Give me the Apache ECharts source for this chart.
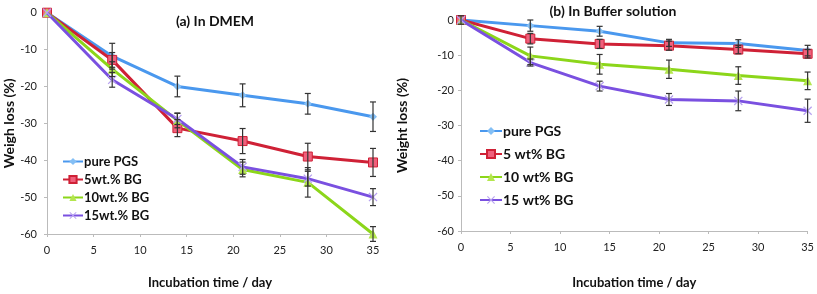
<!DOCTYPE html>
<html><head><meta charset="utf-8">
<script src="https://cdn.jsdelivr.net/npm/echarts@6/dist/echarts.min.js"></script>
<style>html,body{margin:0;padding:0;background:#fff}#c{width:817px;height:294px}</style>
</head><body><div id="c"></div>
<script>
const days = [0, 7, 14, 21, 28, 35];
const xTicks = [0, 5, 10, 15, 20, 25, 30, 35];
const yTicks = [0, -10, -20, -30, -40, -50, -60];

const namesA = ['pure PGS', '5wt.% BG', '10wt.% BG', '15wt.% BG'];
const namesB = ['pure PGS ', '5 wt% BG', '10 wt% BG', '15 wt% BG'];

// (a) In DMEM
const a_pgs = [0, -11.8, -20.0, -22.4, -24.7, -28.2];
const a_5 = [0, -12.8, -31.3, -34.8, -39.0, -40.6];
const a_10 = [0, -15.3, -29.2, -42.5, -46.0, -60.0];
const a_15 = [0, -18.2, -28.8, -41.8, -45.0, -50.0];
const a_pgs_err = [0, 3.5, 2.8, 3.1, 2.8, 4.0];
const a_5_err = [0, 2.0, 2.3, 3.4, 3.6, 3.8];
const a_10_err = [0, 2.0, 2.0, 2.0, 4.0, 2.0];
const a_15_err = [0, 2.0, 1.5, 2.0, 2.0, 2.3];

// (b) In Buffer solution
const b_pgs = [0, -1.6, -3.2, -6.5, -6.7, -8.7];
const b_5 = [0, -5.3, -6.8, -7.3, -8.4, -9.6];
const b_10 = [0, -10.2, -12.6, -14.0, -15.8, -17.3];
const b_15 = [0, -12.1, -18.8, -22.6, -23.0, -25.8];
const b_pgs_err = [1.2, 1.6, 1.4, 1.0, 1.1, 1.5];
const b_5_err = [0, 1.5, 1.3, 1.3, 1.2, 1.2];
const b_10_err = [0, 2.5, 2.8, 2.6, 2.5, 2.5];
const b_15_err = [0, 1.0, 1.4, 1.7, 2.8, 3.3];

const colors = ['#4a98ee', '#cf2136', '#8cd61a', '#7a50e0'];
const markFill = ['#84bff5', '#f0607c', '#b4e64e', '#b8a2f0'];
const symbols = ['diamond', 'rect', 'triangle',
  'path://M0,1L1,0L5,4L9,0L10,1L6,5L10,9L9,10L5,6L1,10L0,9L4,5Z'];
const symSizes = [8, 9, 9, 9];
const FONT = 'Lato';

function lineSeries(name, data, i, idx) {
  return {
    type: 'line', name: name, xAxisIndex: idx, yAxisIndex: idx,
    data: days.map((d, k) => [d, data[k]]),
    lineStyle: { color: colors[i], width: 3 },
    itemStyle: { color: markFill[i], borderColor: colors[i], borderWidth: i === 1 ? 1 : 0 },
    symbol: symbols[i], symbolSize: symSizes[i], showSymbol: true, z: 3 + i,
    animation: false
  };
}
function errSeries(data, err, idx) {
  return {
    type: 'custom', xAxisIndex: idx, yAxisIndex: idx, silent: true, z: 10,
    data: days.map((d, k) => [d, data[k] + err[k], data[k] - err[k]]),
    renderItem: function (params, api) {
      const hi = api.coord([api.value(0), api.value(1)]);
      const lo = api.coord([api.value(0), api.value(2)]);
      if (Math.abs(hi[1] - lo[1]) < 0.5) return null;
      const w = 3, st = { stroke: '#333', lineWidth: 1.2 };
      return { type: 'group', children: [
        { type: 'line', shape: { x1: hi[0], y1: hi[1], x2: lo[0], y2: lo[1] }, style: st },
        { type: 'line', shape: { x1: hi[0] - w, y1: hi[1], x2: hi[0] + w, y2: hi[1] }, style: st },
        { type: 'line', shape: { x1: lo[0] - w, y1: lo[1], x2: lo[0] + w, y2: lo[1] }, style: st }
      ] };
    },
    animation: false
  };
}
function xAx(idx, gap) {
  return {
    type: 'value', gridIndex: idx, min: xTicks[0], max: xTicks[xTicks.length - 1], interval: 5,
    name: 'Incubation time / day', nameLocation: 'middle', nameGap: gap,
    nameTextStyle: { fontFamily: FONT, fontWeight: 'bold', fontSize: 13, color: '#111' },
    axisLine: { onZero: false, lineStyle: { color: '#bbb', width: 1 } },
    axisTick: { show: true, length: 3, lineStyle: { color: '#bbb' } },
    axisLabel: { fontFamily: FONT, fontSize: 11, color: '#222', margin: 11 },
    splitLine: { show: false }
  };
}
function yAx(idx, name, gap, margin) {
  return {
    type: 'value', gridIndex: idx, min: yTicks[yTicks.length - 1], max: yTicks[0], interval: 10,
    name: name, nameLocation: 'middle', nameGap: gap,
    nameTextStyle: { fontFamily: FONT, fontWeight: 'bold', fontSize: 14, color: '#111' },
    axisLine: { show: true, onZero: false, lineStyle: { color: '#bbb', width: 1 } },
    axisTick: { show: true, length: 3, lineStyle: { color: '#bbb' } },
    axisLabel: { fontFamily: FONT, fontSize: 11, color: '#222', margin: margin },
    splitLine: { show: false }
  };
}
const series = [];
[a_pgs, a_5, a_10, a_15].forEach((d, i) => series.push(lineSeries(namesA[i], d, i, 0)));
[b_pgs, b_5, b_10, b_15].forEach((d, i) => series.push(lineSeries(namesB[i], d, i, 1)));
series.push(errSeries(a_pgs, a_pgs_err, 0), errSeries(a_5, a_5_err, 0),
  errSeries(a_10, a_10_err, 0), errSeries(a_15, a_15_err, 0));
series.push(errSeries(b_pgs, b_pgs_err, 1), errSeries(b_5, b_5_err, 1),
  errSeries(b_10, b_10_err, 1), errSeries(b_15, b_15_err, 1));

const chart = echarts.init(document.getElementById('c'), null, { renderer: 'canvas' });
chart.setOption({
  animation: false,
  backgroundColor: '#fff',
  title: [
    { text: '(a) In DMEM', left: 210, top: 9, textAlign: 'center',
      textStyle: { fontFamily: FONT, fontWeight: 'bold', fontSize: 14, color: '#111' } },
    { text: '(b) In Buffer solution', left: 608, top: -1, textAlign: 'center',
      textStyle: { fontFamily: FONT, fontWeight: 'bold', fontSize: 14, color: '#111' } }
  ],
  grid: [
    { left: 47, top: 12.7, width: 326, height: 227 },
    { left: 461, top: 20, width: 349, height: 220 }
  ],
  xAxis: [xAx(0, 42), xAx(1, 45)],
  yAxis: [yAx(0, 'Weigh loss (%)', 31, 10), yAx(1, 'Weight loss (%)', 52, 7)],
  legend: [
    { data: namesA, orient: 'vertical', left: 57, top: 150, itemGap: 5, itemWidth: 20, itemHeight: 9,
      textStyle: { fontFamily: FONT, fontSize: 13, fontWeight: 'bold', color: '#111', padding: [0, 0, 0, -4] } },
    { data: namesB, orient: 'vertical', left: 474, top: 119, itemGap: 9, itemWidth: 22, itemHeight: 10,
      textStyle: { fontFamily: FONT, fontSize: 14, fontWeight: 'bold', color: '#111', padding: [0, 0, 0, -4] } }
  ],
  series: series
});
</script></body></html>
